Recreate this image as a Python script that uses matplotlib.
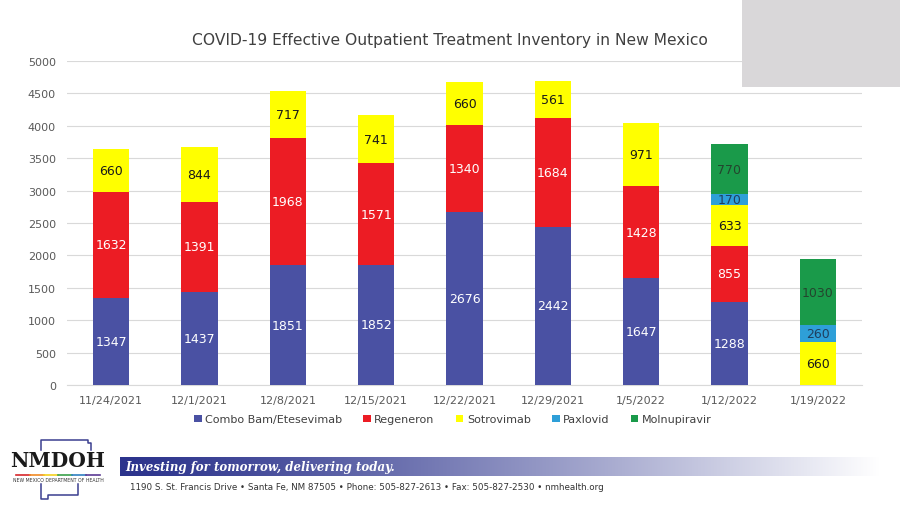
import numpy as np
import matplotlib
matplotlib.use("Agg")
import matplotlib.pyplot as plt
from matplotlib import font_manager
from matplotlib.patches import Rectangle
from matplotlib.lines import Line2D

# data
dates = ["11/24/2021", "12/1/2021", "12/8/2021", "12/15/2021", "12/22/2021",
         "12/29/2021", "1/5/2022", "1/12/2022", "1/19/2022"]
combo = [1347, 1437, 1851, 1852, 2676, 2442, 1647, 1288, 0]
regeneron = [1632, 1391, 1968, 1571, 1340, 1684, 1428, 855, 0]
sotrovimab = [660, 844, 717, 741, 660, 561, 971, 633, 660]
paxlovid = [0, 0, 0, 0, 0, 0, 0, 170, 260]
molnupiravir = [0, 0, 0, 0, 0, 0, 0, 770, 1030]

series = [
    ("Combo Bam/Etesevimab", combo, "#4a51a3", "white"),
    ("Regeneron", regeneron, "#ec1c24", "white"),
    ("Sotrovimab", sotrovimab, "#ffff00", "#1a1a1a"),
    ("Paxlovid", paxlovid, "#2e9fd8", "#1f3f5f"),
    ("Molnupiravir", molnupiravir, "#1a9a4a", "#24452e"),
]

# narrow font for the Office-like look, if there is one
try:
    font_manager.findfont("Liberation Sans Narrow", fallback_to_default=False)
    narrow = "Liberation Sans Narrow"
except Exception:
    narrow = "DejaVu Sans"

W, H = 900, 506
fig = plt.figure(figsize=(9, 5.06), dpi=100)
fig.patch.set_facecolor("white")


def fx(px):
    return px / W


def fy(py):
    return 1 - py / H


# plot area
ax = fig.add_axes([fx(67), fy(386), fx(862 - 67), (386 - 62) / H])
x = np.arange(len(dates))
bottom = np.zeros(len(dates))
for name, vals, col, tcol in series:
    vals = np.array(vals, dtype=float)
    ax.bar(x, vals, 0.41, bottom=bottom, color=col, label=name, zorder=3)
    for i, v in enumerate(vals):
        if v > 0:
            ax.text(x[i], bottom[i] + v / 2, str(int(v)), ha="center", va="center",
                    fontsize=9, color=tcol, zorder=4)
    bottom += vals

ax.set_xlim(-0.5, len(dates) - 0.5)
ax.set_ylim(0, 5000)
ax.set_yticks(range(0, 5001, 500))
ax.set_xticks(x)
ax.set_xticklabels(dates, family=narrow, fontsize=9 if narrow != "DejaVu Sans" else 8)
ax.grid(axis="y", color="#d9d9d9", linewidth=0.8, zorder=0)
for s in ["top", "right", "left"]:
    ax.spines[s].set_visible(False)
ax.spines["bottom"].set_color("#d9d9d9")
ax.tick_params(axis="both", length=0, labelsize=8, colors="#595959")
ax.tick_params(axis="x", pad=7)
ax.tick_params(axis="y", pad=8)

ax.legend(loc="upper center", bbox_to_anchor=(0.485, -0.06), ncol=5, frameon=False,
          prop={"family": narrow, "size": 9.5 if narrow != "DejaVu Sans" else 8},
          handlelength=0.7, handleheight=0.7, handletextpad=0.3,
          columnspacing=1.9, labelcolor="#404040")

fig.text(fx(450), fy(40), "COVID-19 Effective Outpatient Treatment Inventory in New Mexico",
         ha="center", va="center", fontsize=13.5 if narrow != "DejaVu Sans" else 11.2,
         color="#404040", family=narrow)

# grey box top right
fig.patches.append(Rectangle((fx(742), fy(88)), fx(158), 88 / H, transform=fig.transFigure,
                             facecolor="#d9d7d9", edgecolor="none"))

# footer banner gradient
bax = fig.add_axes([fx(120), fy(477), fx(760), 19 / H])
t = np.linspace(0, 1, 400)
start = np.array([0.17, 0.20, 0.55])
mix = np.clip(t ** 1.2, 0, 1)[:, None]
grad = start * (1 - mix) + np.array([1.0, 1.0, 1.0]) * mix
bax.imshow(grad[None, :, :], aspect="auto", extent=[0, 1, 0, 1])
bax.axis("off")
fig.text(fx(125), fy(467.5), "Investing for tomorrow, delivering today.", ha="left", va="center",
         fontsize=8.5, color="white", style="italic", weight="bold", family="DejaVu Serif")
fig.text(fx(130), fy(488), "1190 S. St. Francis Drive \u2022 Santa Fe, NM 87505 \u2022 Phone: 505-827-2613 "
         "\u2022 Fax: 505-827-2530 \u2022 nmhealth.org", ha="left", va="center",
         fontsize=6.3, color="#333333")

# logo
fig.text(fx(58), fy(461), "NMDOH", ha="center", va="center", fontsize=14.5, weight="bold",
         family="DejaVu Serif", color="#1a1a1a")
fig.text(fx(58), fy(481), "NEW MEXICO DEPARTMENT OF HEALTH", ha="center", va="center",
         fontsize=3.3, color="#333333")
rainbow = ["#d7262b", "#f08a24", "#f5d11f", "#3aa14a", "#2f7fc1", "#5b3a93"]
for k, c in enumerate(rainbow):
    x0 = 16 + k * 14
    fig.lines.append(Line2D([fx(x0), fx(x0 + 14)], [fy(476), fy(476)], transform=fig.transFigure,
                            color=c, linewidth=1.2))
outline = "#3b3f8f"
fig.lines.append(Line2D([fx(41), fx(41), fx(88), fx(88), fx(91), fx(91)],
                        [fy(451), fy(441), fy(441), fy(444), fy(444), fy(451)],
                        transform=fig.transFigure, color=outline, linewidth=1.1))
fig.lines.append(Line2D([fx(41), fx(41), fx(48), fx(48), fx(78), fx(78)],
                        [fy(485), fy(500), fy(500), fy(496), fy(496), fy(485)],
                        transform=fig.transFigure, color=outline, linewidth=1.1))

fig.savefig("out.png", dpi=100, facecolor="white")
